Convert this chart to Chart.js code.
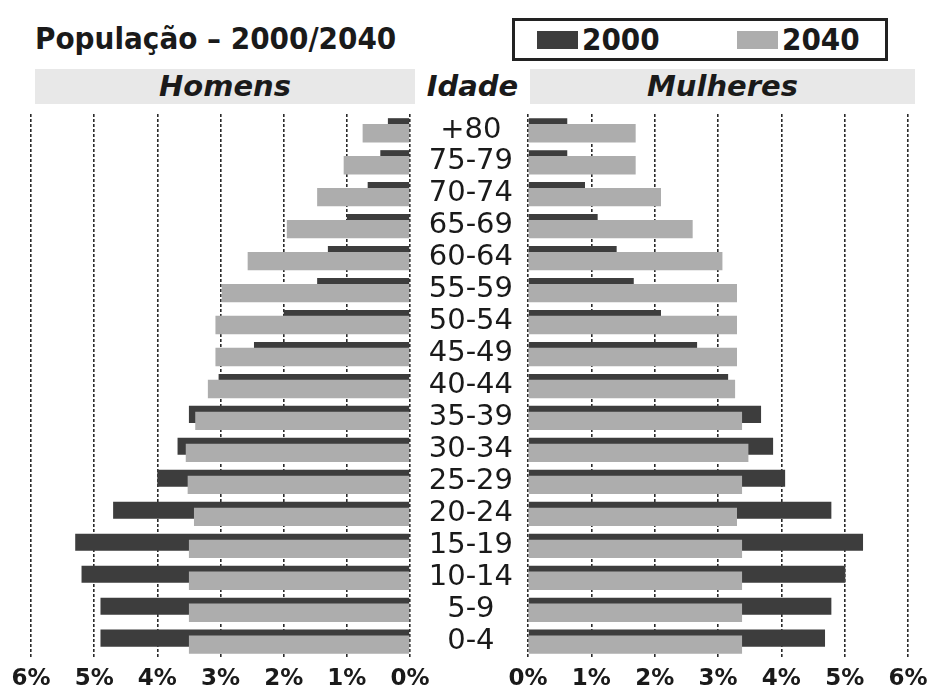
<!DOCTYPE html>
<html>
  <head>
    <title>População - 2000/2040</title>
    <style>
      body {
        margin: 0;
        padding: 0;
        width: 931px;
        height: 693px;
        background: #fff;
        position: relative;
        overflow: hidden;
        font-family: "DejaVu Sans", sans-serif;
        color: #1a1a1a;
      }

      #title {
        position: absolute;
        left: 35px;
        top: 20px;
        font-size: 31px;
        font-weight: bold;
        line-height: 36px;
        white-space: nowrap;
        transform: scaleX(0.9);
        transform-origin: left top;
      }

      #legend {
        position: absolute;
        left: 512px;
        top: 18px;
        width: 370px;
        height: 37px;
        border: 3px solid #222;
      }

      #legend .item {
        position: absolute;
        top: 0;
        font-size: 31px;
        font-weight: bold;
        line-height: 37px;
        white-space: nowrap;
      }

      #legend .swatch {
        display: inline-block;
        width: 41px;
        height: 18px;
        margin-right: 4px;
        vertical-align: 1px;
      }

      #legend .text {
        display: inline-block;
        transform: scaleX(0.9);
        transform-origin: left center;
      }

      .band {
        position: absolute;
        top: 69px;
        height: 35px;
        background: #e8e8e8;
        font-size: 29px;
        font-weight: bold;
        font-style: italic;
        line-height: 35px;
        text-align: center;
      }

      #bandH {
        left: 35px;
        width: 380px;
      }

      #bandM {
        left: 530px;
        width: 385px;
      }

      #idade {
        position: absolute;
        left: 415px;
        width: 115px;
        top: 69px;
        line-height: 35px;
        font-size: 29px;
        font-weight: bold;
        font-style: italic;
        text-align: center;
      }

      #left-wrap {
        position: absolute;
        left: 0;
        top: 106px;
        width: 440px;
        height: 596px;
      }

      #right-wrap {
        position: absolute;
        left: 415px;
        top: 106px;
        width: 516px;
        height: 596px;
      }
    </style>
  </head>
  <body>
    <div id="title">População – 2000/2040</div>
    <div id="legend"></div>
    <div class="band" id="bandH">Homens</div>
    <div id="idade">Idade</div>
    <div class="band" id="bandM">Mulheres</div>

    <div id="left-wrap"><canvas id="homens"></canvas></div>
    <div id="right-wrap"><canvas id="mulheres"></canvas></div>

    <script src="https://cdn.jsdelivr.net/npm/chart.js"></script>
    <script>
      // age groups, top of the pyramid first
      const ages = [
        "+80", "75-79", "70-74", "65-69", "60-64", "55-59", "50-54", "45-49",
        "40-44", "35-39", "30-34", "25-29", "20-24", "15-19", "10-14", "5-9", "0-4",
      ];

      const years = ["2000", "2040"];

      // percentages
      const homens2000 = [
        0.35, 0.47, 0.67, 1.0, 1.3, 1.47, 2.0, 2.47, 3.03, 3.5, 3.68, 4.0, 4.7,
        5.3, 5.2, 4.9, 4.9,
      ];
      const homens2040 = [
        0.75, 1.05, 1.47, 1.95, 2.57, 2.98, 3.08, 3.08, 3.2, 3.4, 3.55, 3.52,
        3.42, 3.5, 3.5, 3.5, 3.5,
      ];
      const mulheres2000 = [
        0.62, 0.62, 0.9, 1.1, 1.4, 1.67, 2.1, 2.67, 3.16, 3.68, 3.87, 4.06,
        4.79, 5.29, 5.01, 4.79, 4.69,
      ];
      const mulheres2040 = [
        1.7, 1.7, 2.1, 2.6, 3.07, 3.3, 3.3, 3.3, 3.27, 3.38, 3.48, 3.38, 3.3,
        3.38, 3.38, 3.38, 3.38,
      ];

      const colors = ["#3d3d3d", "#adadad"];

      // legend box
      const legend = document.getElementById("legend");
      years.forEach((y, i) => {
        const item = document.createElement("div");
        item.className = "item";
        item.style.left = i === 0 ? "22px" : "222px";
        item.innerHTML =
          '<span class="swatch" style="background:' + colors[i] + '"></span>' +
          '<span class="text">' + y + "</span>";
        legend.appendChild(item);
      });

      // 2000 bars sit behind the 2040 bars, but take the upper slot
      const lightOnTop = {
        id: "lightOnTop",
        beforeDatasetDraw(chart, args) {
          if (args.index === 1) chart.getDatasetMeta(0).controller.draw();
          if (args.index === 0) return false;
        },
      };

      function makeChart(id, data2000, data2040, isLeft) {
        const ctx = document.getElementById(id).getContext("2d");
        return new Chart(ctx, {
          type: "bar",
          data: {
            labels: ages,
            datasets: [
              {
                label: years[0],
                data: data2000,
                backgroundColor: colors[0],
                borderWidth: 0,
                categoryPercentage: 0.41,
                barPercentage: 2.6,
              },
              {
                label: years[1],
                data: data2040,
                backgroundColor: colors[1],
                borderWidth: 0,
                categoryPercentage: 0.41,
                barPercentage: 2.8,
              },
            ],
          },
          options: {
            indexAxis: "y",
            responsive: true,
            maintainAspectRatio: false,
            animation: false,
            layout: {
              padding: isLeft
                ? { left: 31, right: 30, top: 8, bottom: 1 }
                : { left: 0, right: 23, top: 8, bottom: 1 },
            },
            plugins: {
              legend: { display: false },
              tooltip: { enabled: false },
            },
            scales: {
              x: {
                min: 0,
                max: 6,
                reverse: isLeft,
                border: { display: false, dash: [3, 2] },
                grid: { color: "#2a2a2a", lineWidth: 1.6, drawTicks: false },
                ticks: {
                  stepSize: 1,
                  padding: 8,
                  maxRotation: 0,
                  color: "#1a1a1a",
                  font: { family: "DejaVu Sans", size: 23, weight: "bold" },
                  callback: (v) => v + "%",
                },
                afterFit: (scale) => {
                  // end labels may hang past the plot, layout padding decides
                  scale.paddingLeft = 0;
                  scale.paddingRight = 0;
                },
              },
              y: {
                display: !isLeft,
                border: { display: false },
                grid: { display: false, drawTicks: false },
                ticks: {
                  autoSkip: false,
                  crossAlign: "center",
                  padding: 15,
                  color: "#1a1a1a",
                  font: { family: "DejaVu Sans", size: 29 },
                },
                afterFit: (scale) => {
                  // the age column between the two halves
                  scale.width = isLeft ? 0 : 113;
                  scale.paddingTop = 0;
                  scale.paddingBottom = 0;
                },
              },
            },
          },
          plugins: [lightOnTop],
        });
      }

      makeChart("homens", homens2000, homens2040, true);
      makeChart("mulheres", mulheres2000, mulheres2040, false);
    </script>
  </body>
</html>
